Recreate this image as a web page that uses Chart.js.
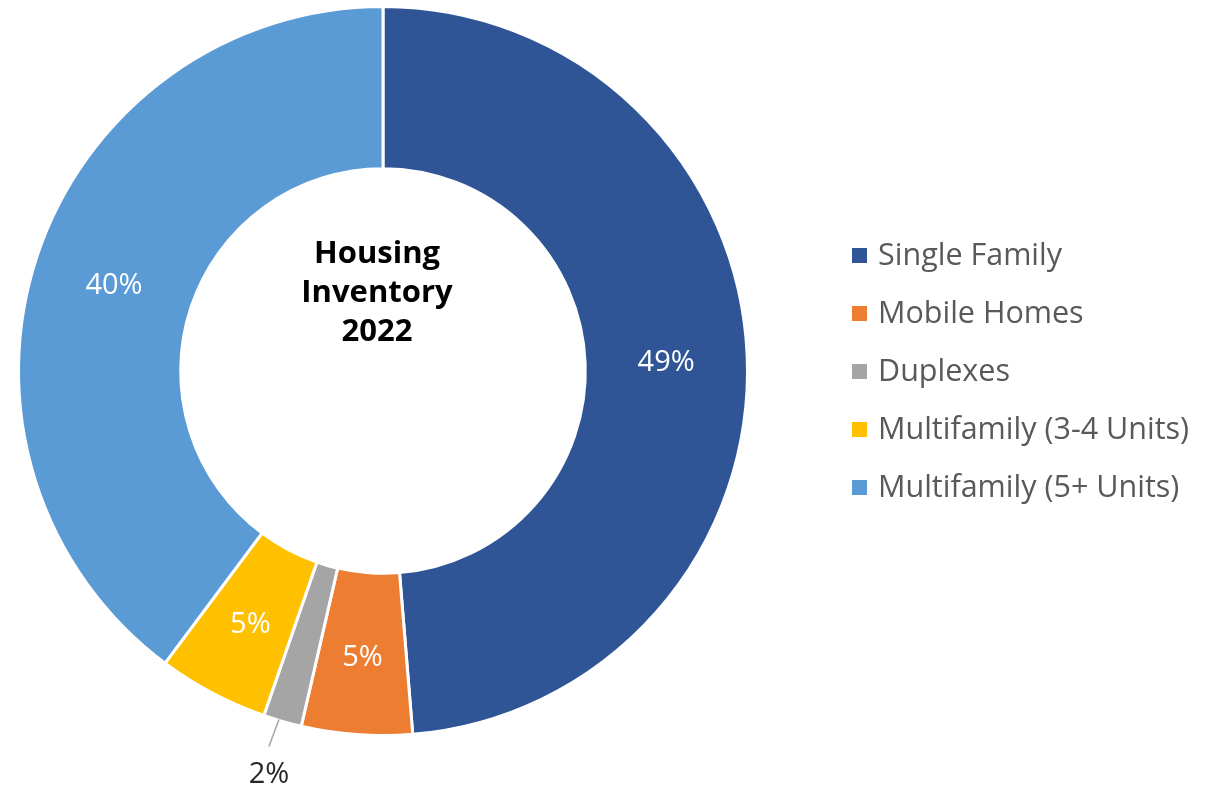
<!DOCTYPE html>
<html>
<head>
<meta charset="utf-8">
<script src="https://cdn.jsdelivr.net/npm/chart.js@4.4.1/dist/chart.umd.min.js"></script>
<style>
html,body{margin:0;padding:0;background:#fff;}
#wrap{width:1211px;height:789px;position:relative;}
</style>
</head>
<body>
<div id="wrap"><canvas id="c" width="1211" height="789"></canvas></div>
<script>
const categories = ["Single Family", "Mobile Homes", "Duplexes", "Multifamily (3-4 Units)", "Multifamily (5+ Units)"];
const shares = [48.7, 4.9, 1.7, 4.9, 39.8];
const colors = ["#2F5597", "#ED7D31", "#A5A5A5", "#FFC000", "#5B9BD5"];
const centerTitle = ["Housing", "Inventory", "2022"];
const outsideLabelIndex = [2];

const FONT = "'Open Sans', 'Noto Sans', sans-serif";

const labelPlugin = {
  id: 'sliceLabels',
  afterDatasetsDraw(chart) {
    const ctx = chart.ctx;
    const meta = chart.getDatasetMeta(0);
    const total = shares.reduce((a, b) => a + b, 0);
    meta.data.forEach((arc, i) => {
      const p = arc.getProps(['x', 'y', 'startAngle', 'endAngle', 'innerRadius', 'outerRadius'], true);
      const mid = (p.startAngle + p.endAngle) / 2;
      const pct = Math.round(shares[i] / total * 100) + '%';
      ctx.save();
      ctx.font = '29px ' + FONT;
      ctx.textAlign = 'center';
      ctx.textBaseline = 'alphabetic';
      if (outsideLabelIndex.includes(i)) {
        const x0 = p.x + Math.cos(mid) * (p.outerRadius - 2) - 4;
        const y0 = p.y + Math.sin(mid) * (p.outerRadius - 2);
        const x1 = x0 - 10;
        const y1 = y0 + 27;
        ctx.strokeStyle = '#A5A5A5';
        ctx.lineWidth = 1.5;
        ctx.beginPath();
        ctx.moveTo(x0, y0);
        ctx.lineTo(x1, y1);
        ctx.stroke();
        ctx.fillStyle = '#262626';
        ctx.fillText(pct, x1, y1 + 37);
      } else {
        const r = (p.innerRadius + p.outerRadius) / 2;
        ctx.fillStyle = '#FFFFFF';
        ctx.fillText(pct, p.x + Math.cos(mid) * r, p.y + Math.sin(mid) * r + 12);
      }
      ctx.restore();
    });
    // center title
    const a = meta.data[0];
    ctx.save();
    ctx.font = 'bold 31px ' + FONT;
    ctx.fillStyle = '#000000';
    ctx.textAlign = 'center';
    ctx.textBaseline = 'alphabetic';
    centerTitle.forEach((t, k) => {
      ctx.fillText(t, a.x - 6, a.y - 108 + k * 39);
    });
    ctx.restore();
  }
};

const legendPlugin = {
  id: 'sideLegend',
  afterDraw(chart) {
    const ctx = chart.ctx;
    ctx.save();
    ctx.font = '30.5px ' + FONT;
    ctx.textBaseline = 'alphabetic';
    ctx.textAlign = 'left';
    categories.forEach((c, i) => {
      const y = 256 + i * 58;
      ctx.fillStyle = colors[i];
      ctx.fillRect(852, y - 8, 15, 15);
      ctx.fillStyle = '#595959';
      ctx.fillText(c, 878, y + 9);
    });
    ctx.restore();
  }
};

new Chart(document.getElementById('c'), {
  type: 'doughnut',
  data: {
    labels: categories,
    datasets: [{
      data: shares,
      backgroundColor: colors,
      borderColor: '#FFFFFF',
      borderWidth: 3,
      hoverOffset: 0
    }]
  },
  options: {
    responsive: false,
    animation: false,
    cutout: '55.5%',
    layout: { padding: { left: 17, right: 1211 - 749, top: 5, bottom: 52 } },
    plugins: {
      legend: { display: false },
      tooltip: { enabled: false }
    }
  },
  plugins: [labelPlugin, legendPlugin]
});
</script>
</body>
</html>
